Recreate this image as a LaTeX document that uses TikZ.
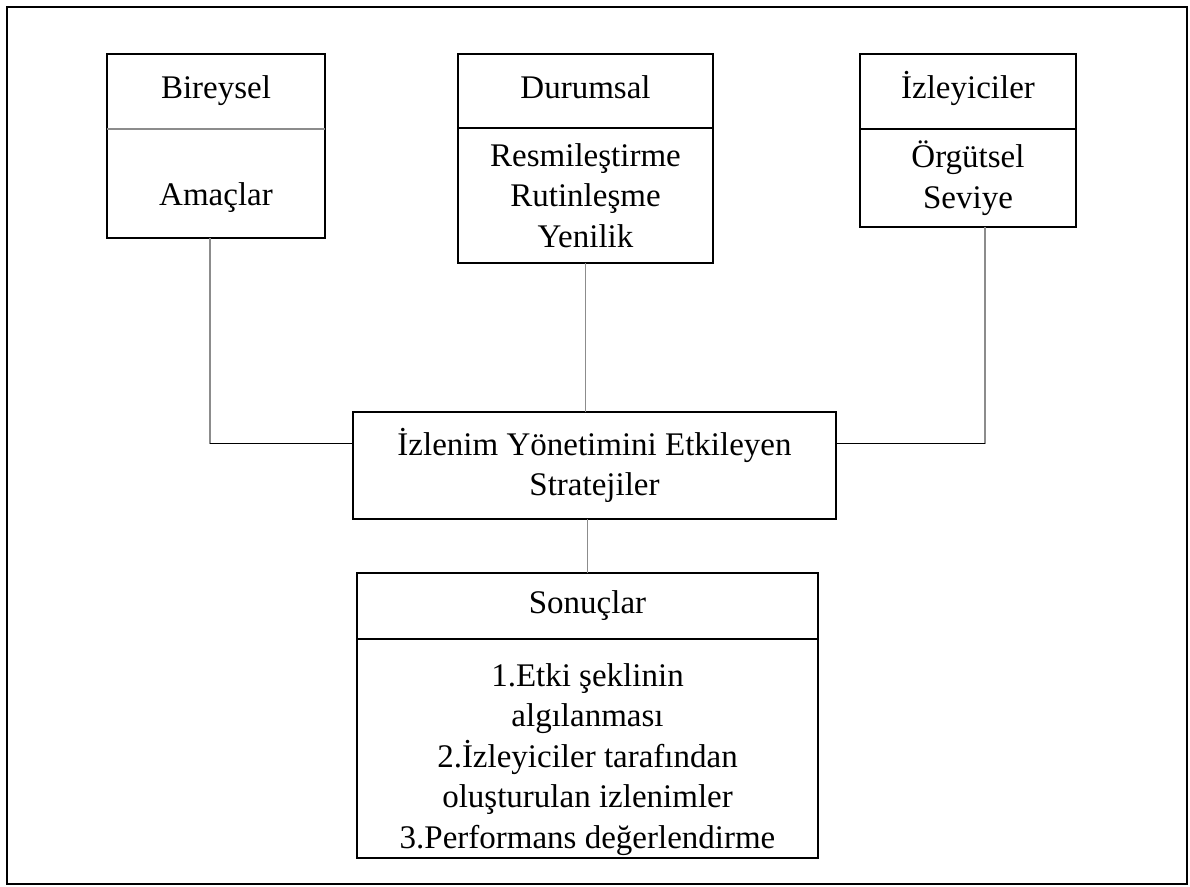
\documentclass[tikz,border=0pt]{standalone}
\usepackage{fontspec}
\setmainfont{Liberation Serif}
\usetikzlibrary{positioning}
\tikzset{every node/.style={font=\fontsize{33}{40.5}\selectfont},box/.style={draw,line width=1.6pt,align=center,inner sep=0pt,outer sep=0pt},
head/.style={box,text height=22pt,text depth=8pt},
vl/.style={line width=1.5pt,black!45},hl/.style={line width=1.5pt,black}}

\begin{document}
\begin{tikzpicture}[x=1pt,y=-1pt]
\useasboundingbox (0,0) rectangle (1190,886);
\draw[line width=1.8pt] (7,7) rectangle (1187,884);
% ust kutular
\node[head,minimum width=218pt,minimum height=75pt,anchor=north] (birH) at (216,54){Bireysel};
\node[box,minimum width=218pt,minimum height=109pt,anchor=north,text height=52pt] (birB) at (birH.south){Amaçlar};
\draw[vl] (birH.south west)--(birH.south east);
\node[head,minimum width=255pt,minimum height=74pt,anchor=north] (durH) at (585.5,54){Durumsal};
\node[box,minimum width=255pt,minimum height=135pt,anchor=north] (durB) at (durH.south){Resmileştirme\\Rutinleşme\\Yenilik};
\node[head,minimum width=216pt,minimum height=75pt,anchor=north] (izlH) at (968,54){İzleyiciler};
\node[box,minimum width=216pt,minimum height=98pt,anchor=north] (izlB) at (izlH.south){Örgütsel\\Seviye};
% orta ve alt
\node[box,minimum width=483pt,minimum height=107pt] (mid) at (594.5,465.5){İzlenim Yönetimini Etkileyen\\Stratejiler};
\node[head,minimum width=461pt,minimum height=66pt,anchor=north] (sonH) at (587.5,573){Sonuçlar};
\node[box,minimum width=461pt,minimum height=219pt,anchor=north] (sonB) at (sonH.south){};
\node[align=center] (sonT) at ([yshift=-11pt]sonB.center){1.Etki şeklinin\\algılanması\\2.İzleyiciler tarafından\\oluşturulan izlenimler\\3.Performans değerlendirme};
% baglantilar
\coordinate (lt) at ([xshift=-6pt]birB.south);\coordinate (rt) at ([xshift=17pt]izlB.south);
\coordinate (ml) at ([yshift=22pt]mid.west);\coordinate (mr) at ([yshift=22pt]mid.east);
\draw[vl] (lt)--(lt |- ml);\draw[hl] (lt |- ml)--(ml);
\draw[vl] (rt)--(rt |- mr);\draw[hl] (rt |- mr)--(mr);
\draw[vl] (durB.south)--(durB.south |- mid.north);
\draw[vl] (sonH.north)--(sonH.north |- mid.south);
\end{tikzpicture}
\end{document}
